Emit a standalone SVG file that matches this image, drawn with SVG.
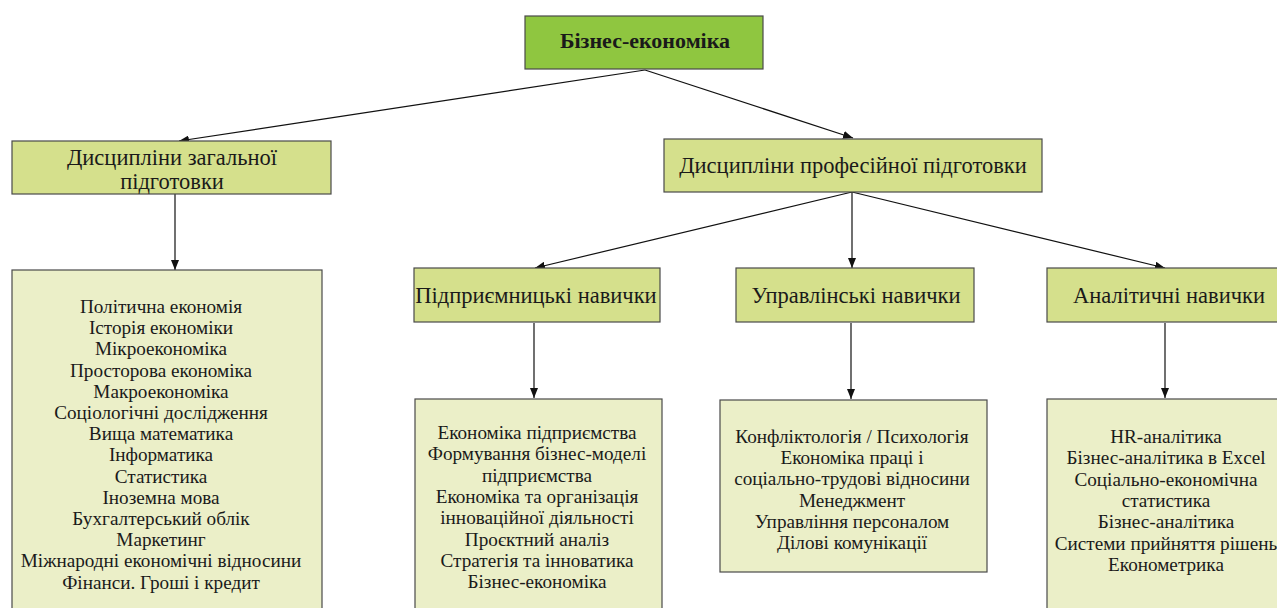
<svg xmlns="http://www.w3.org/2000/svg" width="1277" height="608" viewBox="0 0 1277 608">
<defs>
<marker id="ah" viewBox="0 0 10 8" refX="10" refY="4" markerWidth="10" markerHeight="8" markerUnits="userSpaceOnUse" orient="auto">
<path d="M0,0 L10,4 L0,8 Z" fill="#111"/>
</marker>
<style>
.top{fill:#8fc640;stroke:#4a4a4a;stroke-width:1.2}
.hdr{fill:#d5e08c;stroke:#4a4a4a;stroke-width:1.2}
.lst{fill:#ebefc8;stroke:#4a4a4a;stroke-width:1.2}
text{font-family:"Liberation Serif","Times New Roman",serif;fill:#1a1a1a;text-anchor:middle}
.t1{font-size:22px;font-weight:bold}
.t2{font-size:22.5px}
.t3{font-size:19.2px}
.con line{stroke:#111;stroke-width:1.2;marker-end:url(#ah)}
</style>
</defs>
<rect width="1277" height="608" fill="#fff"/>
<g class="con">
<line x1="645" y1="70" x2="179" y2="141"/>
<line x1="645" y1="70" x2="853" y2="138"/>
<line x1="175" y1="194" x2="175" y2="270"/>
<line x1="852" y1="192" x2="535" y2="268"/>
<line x1="852" y1="192" x2="852" y2="268"/>
<line x1="852" y1="192" x2="1165" y2="268"/>
<line x1="534" y1="323" x2="534" y2="398"/>
<line x1="851" y1="323" x2="851" y2="399"/>
<line x1="1165" y1="323" x2="1165" y2="398"/>
</g>
<g id="n-root">
<rect class="top" x="525" y="16" width="238" height="53"/>
<text class="t1" x="645" y="48">Бізнес-економіка</text>
</g>
<g id="n-general">
<rect class="hdr" x="12" y="141" width="319" height="53"/>
<text class="t2" x="172" y="165">Дисципліни загальної</text>
<text class="t2" x="172" y="189">підготовки</text>
</g>
<g id="n-prof">
<rect class="hdr" x="664" y="139" width="378" height="53"/>
<text class="t2" x="853" y="173">Дисципліни професійної підготовки</text>
</g>
<g id="n-general-list">
<rect class="lst" x="12" y="270" width="310" height="345"/>
<text class="t3" x="161" y="313">Політична економія</text>
<text class="t3" x="161" y="334.2">Історія економіки</text>
<text class="t3" x="161" y="355.4">Мікроекономіка</text>
<text class="t3" x="161" y="376.6">Просторова економіка</text>
<text class="t3" x="161" y="397.8">Макроекономіка</text>
<text class="t3" x="161" y="419">Соціологічні дослідження</text>
<text class="t3" x="161" y="440.2">Вища математика</text>
<text class="t3" x="161" y="461.4">Інформатика</text>
<text class="t3" x="161" y="482.6">Статистика</text>
<text class="t3" x="161" y="503.8">Іноземна мова</text>
<text class="t3" x="161" y="525">Бухгалтерський облік</text>
<text class="t3" x="161" y="546.2">Маркетинг</text>
<text class="t3" x="161" y="567.4">Міжнародні економічні відносини</text>
<text class="t3" x="161" y="588.6">Фінанси. Гроші і кредит</text>
</g>
<g id="n-entre">
<rect class="hdr" x="414" y="268" width="246" height="54"/>
<text class="t2" x="536" y="303">Підприємницькі навички</text>
</g>
<g id="n-manage">
<rect class="hdr" x="736" y="268" width="238" height="54"/>
<text class="t2" x="856" y="303">Управлінські навички</text>
</g>
<g id="n-analyt">
<rect class="hdr" x="1047" y="268" width="240" height="54"/>
<text class="t2" x="1169" y="303">Аналітичні навички</text>
</g>
<g id="n-entre-list">
<rect class="lst" x="415" y="399" width="247" height="215"/>
<text class="t3" x="537" y="439">Економіка підприємства</text>
<text class="t3" x="537" y="460.3">Формування бізнес-моделі</text>
<text class="t3" x="537" y="481.6">підприємства</text>
<text class="t3" x="537" y="502.9">Економіка та організація</text>
<text class="t3" x="537" y="524.2">інноваційної діяльності</text>
<text class="t3" x="537" y="545.5">Проєктний аналіз</text>
<text class="t3" x="537" y="566.8">Стратегія та інноватика</text>
<text class="t3" x="537" y="588.1">Бізнес-економіка</text>
</g>
<g id="n-manage-list">
<rect class="lst" x="720" y="400" width="267" height="172"/>
<text class="t3" x="852" y="443">Конфліктологія / Психологія</text>
<text class="t3" x="852" y="464.2">Економіка праці і</text>
<text class="t3" x="852" y="485.4">соціально-трудові відносини</text>
<text class="t3" x="852" y="506.6">Менеджмент</text>
<text class="t3" x="852" y="527.8">Управління персоналом</text>
<text class="t3" x="852" y="549">Ділові комунікації</text>
</g>
<g id="n-analyt-list">
<rect class="lst" x="1047" y="399" width="240" height="215"/>
<text class="t3" x="1166" y="443">HR-аналітика</text>
<text class="t3" x="1166" y="464.3">Бізнес-аналітика в Excel</text>
<text class="t3" x="1166" y="485.6">Соціально-економічна</text>
<text class="t3" x="1166" y="506.9">статистика</text>
<text class="t3" x="1166" y="528.2">Бізнес-аналітика</text>
<text class="t3" x="1166" y="549.5">Системи прийняття рішень</text>
<text class="t3" x="1166" y="570.8">Економетрика</text>
</g>
</svg>
